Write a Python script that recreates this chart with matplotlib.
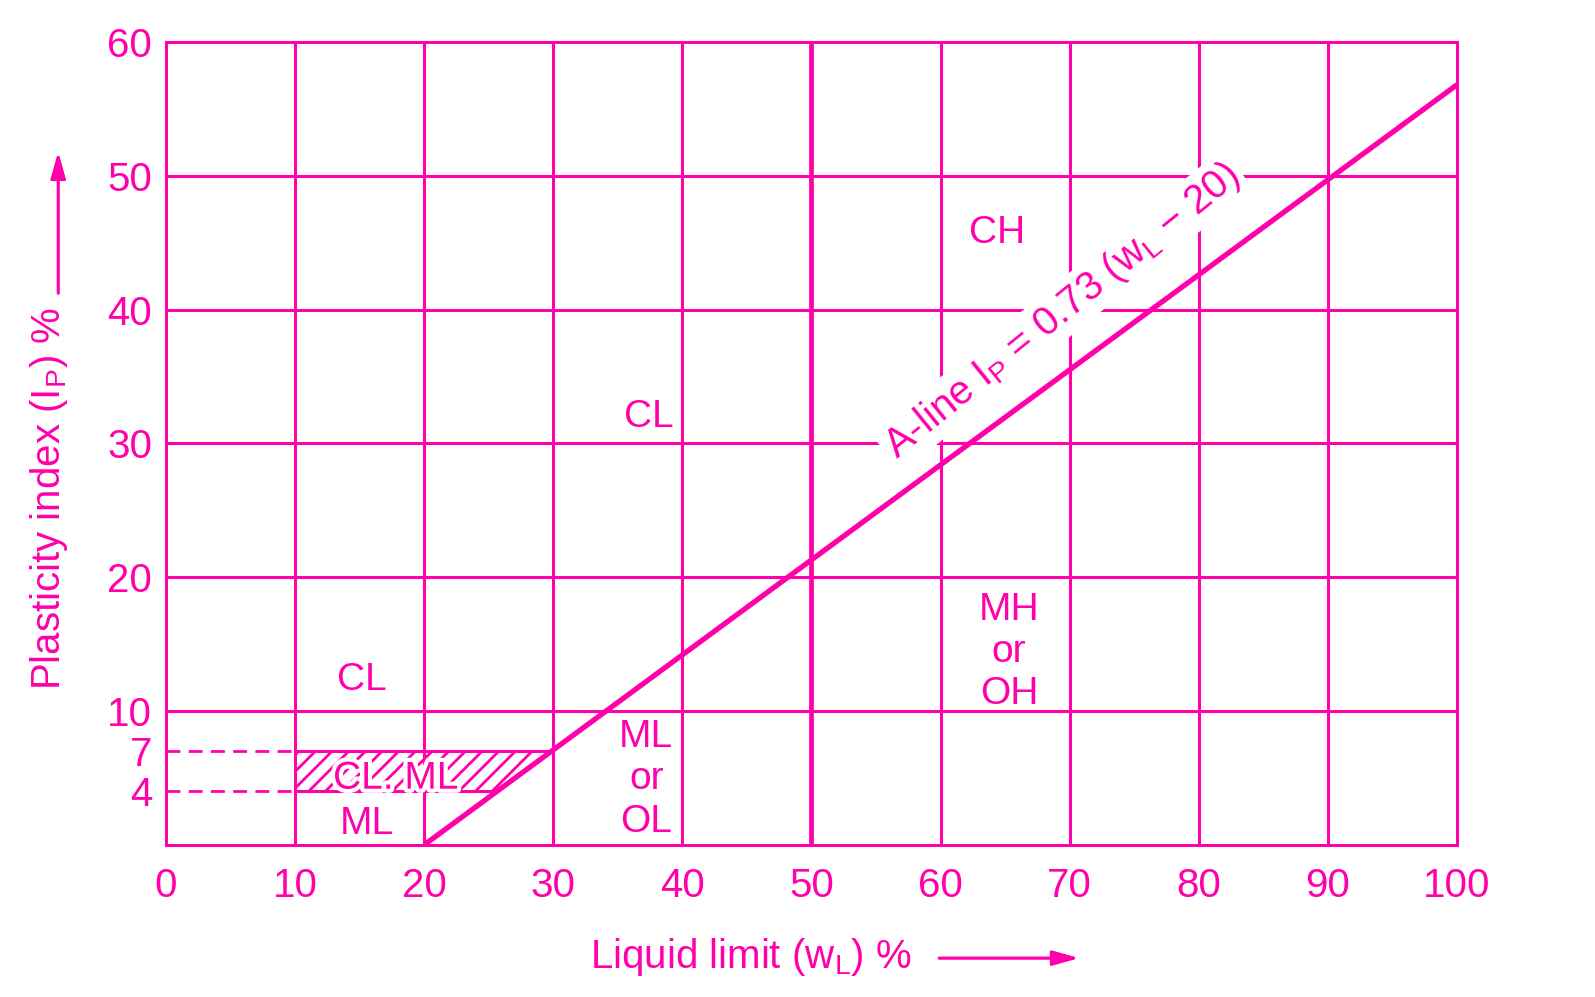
# Plasticity chart (A-line) recreation
import numpy as np
import matplotlib.pyplot as plt
import matplotlib.patheffects as pe

plt.rcParams['font.family'] = ['Liberation Sans', 'DejaVu Sans']
plt.rcParams['mathtext.fontset'] = 'custom'
plt.rcParams['mathtext.rm'] = 'Liberation Sans'
plt.rcParams['mathtext.it'] = 'Liberation Sans'
plt.rcParams['mathtext.default'] = 'regular'
plt.rcParams['hatch.linewidth'] = 2.0

PINK = '#ff00aa'

# data
x_ticks = [0, 10, 20, 30, 40, 50, 60, 70, 80, 90, 100]
y_ticks = [4, 7, 10, 20, 30, 40, 50, 60]
grid_x = [10, 20, 30, 40, 60, 70, 80, 90]
grid_y = [10, 20, 30, 40, 50]
aline_wl = [20, 100]
aline_ip = [0, 56.8]
clml_bounds = [4, 7]
clml_left = 10

zone_labels = ['CL', 'CL. ML', 'ML', 'CL', 'CH', 'ML\nor\nOL', 'MH\nor\nOH']
zone_x = [15.2, 17.8, 15.6, 37.4, 64.4, 37.2, 65.3]
zone_y = [12.3, 4.95, 1.6, 32.0, 45.7, 4.9, 14.4]

fig = plt.figure(figsize=(15.95, 9.97), dpi=100)
ax = fig.add_axes([0.104, 0.1525, 0.8095, 0.8055])
ax.set_xlim(0, 100)
ax.set_ylim(0, 60)

for gx in grid_x:
    ax.axvline(gx, color=PINK, lw=2.2, zorder=1)
for gy in grid_y:
    ax.axhline(gy, color=PINK, lw=2.2, zorder=1)
ax.axvline(50, color=PINK, lw=3.4, zorder=1)

for s in ax.spines.values():
    s.set_color(PINK)
    s.set_linewidth(2.2)

# A-line
ax.plot(aline_wl, aline_ip, color=PINK, lw=3.8, zorder=4, solid_capstyle='butt')

# CL-ML hatched band between 4 and 7, bounded right by the A-line
x_lo = np.interp(clml_bounds[0], aline_ip, aline_wl)
x_hi = np.interp(clml_bounds[1], aline_ip, aline_wl)
band_x = [clml_left, x_hi, x_lo, clml_left]
band_y = [clml_bounds[1], clml_bounds[1], clml_bounds[0], clml_bounds[0]]
ax.fill(band_x, band_y, facecolor='none', edgecolor=PINK, hatch='//', lw=0, zorder=2)
ax.plot([clml_left, x_hi], [clml_bounds[1]] * 2, color=PINK, lw=2.2, zorder=3)
ax.plot([clml_left, x_lo], [clml_bounds[0]] * 2, color=PINK, lw=2.2, zorder=3)
for yb in clml_bounds:
    ax.plot([0, clml_left], [yb, yb], color=PINK, lw=2.0, ls=(0, (5, 3)), zorder=3)

for lab, lx, ly in zip(zone_labels, zone_x, zone_y):
    t = ax.text(lx, ly, lab, color=PINK, fontsize=28, ha='center', va='center',
                linespacing=1.22, zorder=5)
    if lab == 'CL. ML':
        t.set_path_effects([pe.withStroke(linewidth=6, foreground='white')])

ax.text(69.4, 39.9, r'A-line I$_{P}$ = 0.73 (w$_{L}$ $-$ 20)', color=PINK,
        fontsize=29, rotation=39, rotation_mode='anchor', ha='center', va='center',
        bbox=dict(facecolor='white', edgecolor='none', pad=3), zorder=5)

ax.set_xticks(x_ticks)
ax.set_yticks(y_ticks)
ax.tick_params(length=0, labelsize=29, colors=PINK, pad=10)
ax.tick_params(axis='x', pad=16)

# axis titles with arrows
arrow_style = '-|>,head_length=1.6,head_width=0.45'
fig.text(0.471, 0.040, r'Liquid limit (w$_{L}$) %', color=PINK, fontsize=29,
         ha='center', va='center')
fig.add_artist(plt.annotate('', xy=(0.678, 0.039), xytext=(0.587, 0.039),
                            xycoords='figure fraction',
                            arrowprops=dict(arrowstyle=arrow_style, color=PINK, lw=2)))
fig.text(0.031, 0.500, r'Plasticity index (I$_{P}$) %', color=PINK, fontsize=29,
         rotation=90, ha='center', va='center')
fig.add_artist(plt.annotate('', xy=(0.0365, 0.850), xytext=(0.0365, 0.703),
                            xycoords='figure fraction',
                            arrowprops=dict(arrowstyle=arrow_style, color=PINK, lw=2)))

fig.savefig('out.png', dpi=100)
